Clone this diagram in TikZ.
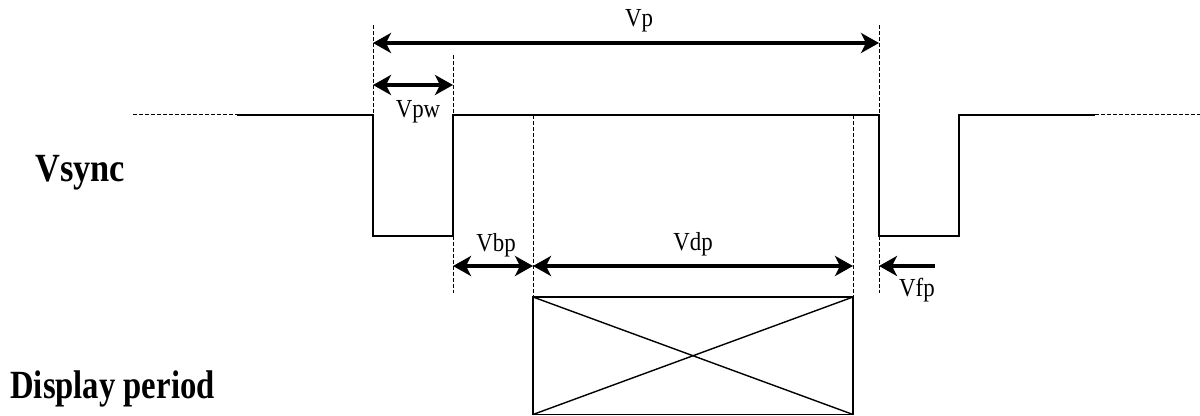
\documentclass[tikz,border=0pt]{standalone}
\usepackage{fontspec}
\setmainfont{Liberation Serif}
\usetikzlibrary{arrows.meta}

\tikzset{
  guide/.style={line width=0.5pt, dash pattern=on 2pt off 1pt},
  signal/.style={line width=0.7pt},
  tipv/.tip={Stealth[length=9pt,width=10pt,inset=2.5pt]},
  span/.style={line width=2pt, tipv-tipv},
  lbl/.style={font=\fontsize{13}{15}\selectfont, anchor=base, inner sep=0pt, xscale=0.88, transform shape},
  title/.style={font=\fontsize{20}{22}\selectfont\bfseries, anchor=base west, inner sep=0pt, xscale=0.86, transform shape}
}

\begin{document}
\begin{tikzpicture}[x=0.5pt, y=-0.5pt]
\useasboundingbox (0,0) rectangle (1200,416);

% Vsync waveform
\draw[guide] (133,115) -- (237,115);
\draw[signal] (237,115) -- (373,115) -- (373,236) -- (453,236) -- (453,115)
  -- (879,115) -- (879,236) -- (959,236) -- (959,115) -- (1095,115);
\draw[guide] (1095,115) -- (1200,115);

% guide lines
\draw[guide] (373,25) -- (373,115);
\draw[guide] (453,55) -- (453,115);
\draw[guide] (453,236) -- (453,293);
\draw[guide] (533,115) -- (533,297);
\draw[guide] (853,115) -- (853,297);
\draw[guide] (879,25) -- (879,115);
\draw[guide] (879,236) -- (879,293);

% display period box
\draw[signal] (533,297) rectangle (853,414.5);
\draw[signal] (533,297) -- (853,414.5) (533,414.5) -- (853,297);

% arrow ends
\coordinate (p-l) at (373,43);
\coordinate (p-r) at (879,43);
\coordinate (pw-l) at (373,85);
\coordinate (pw-r) at (453,85);
\coordinate (bp-l) at (453,266);
\coordinate (bp-r) at (533,266);
\coordinate (dp-r) at (853,266);
\coordinate (fp-r) at (879,266);
\coordinate (fp-tail) at (935,266);

\draw[span] (p-l) -- (p-r);
\draw[span] (pw-l) -- (pw-r);
\draw[span] (bp-l) -- (bp-r);
\draw[span] (bp-r) -- (dp-r);
\draw[line width=2pt, tipv-] (fp-r) -- (fp-tail);

% labels
\node[lbl] (vp) at (639,27) {Vp};
\node[lbl] (vpw) at (418,118) {Vpw};
\node[lbl] (vbp) at (496,252) {Vbp};
\node[lbl] (vdp) at (693,251) {Vdp};
\node[lbl] (vfp) at (917,297) {Vfp};

\node[title] (vsync) at (35,182) {Vsync};
\node[title, xscale=0.95] (disp) at (10,399) {Display period};

\end{tikzpicture}
\end{document}
